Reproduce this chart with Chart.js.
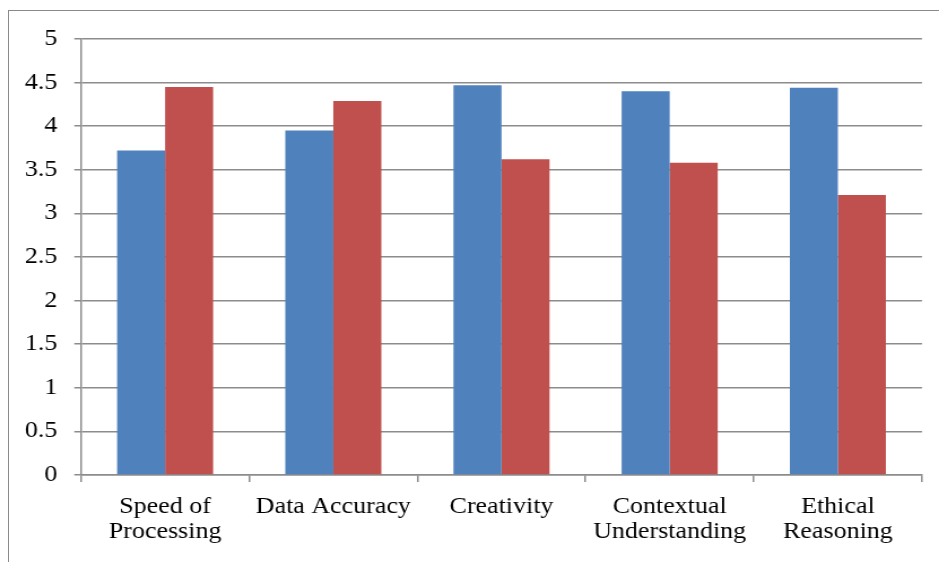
<!DOCTYPE html>
<html>
<head>
<meta charset="utf-8">
<script src="https://cdn.jsdelivr.net/npm/chart.js@4/dist/chart.umd.min.js"></script>
<style>
  html, body { margin: 0; padding: 0; background: #fff; overflow: hidden; }
  #frame {
    position: absolute; left: 8px; top: 10px; width: 1200px; height: 1000px;
    border-left: 1px solid #8a8a8a; border-top: 1px solid #8a8a8a;
  }
  /* the reference is a bit wider than tall, stretch horizontally */
  #wrap {
    position: absolute; left: 0; top: 0; width: 831px; height: 562px;
    transform: scaleX(1.13); transform-origin: 0 0;
  }
</style>
</head>
<body>
<div id="frame"></div>
<div id="wrap"><canvas id="myChart"></canvas></div>
<script>
const categories = [
  ["Speed of", "Processing"],
  "Data Accuracy",
  "Creativity",
  ["Contextual", "Understanding"],
  ["Ethical", "Reasoning"]
];
const seriesBlue = [3.72, 3.95, 4.47, 4.40, 4.44];
const seriesRed = [4.45, 4.29, 3.62, 3.58, 3.21];

const gridColor = "#8c8c8c";
const font = { family: "'Liberation Serif', 'Times New Roman', serif", size: 23, lineHeight: 1.06 };

new Chart(document.getElementById("myChart"), {
  type: "bar",
  data: {
    labels: categories,
    datasets: [
      { data: seriesBlue, backgroundColor: "#4F81BD", categoryPercentage: 0.571, barPercentage: 1.0 },
      { data: seriesRed, backgroundColor: "#C0504D", categoryPercentage: 0.571, barPercentage: 1.0 }
    ]
  },
  options: {
    responsive: true,
    maintainAspectRatio: false,
    animation: false,
    devicePixelRatio: 1,
    layout: { padding: { left: 0, top: 39, right: 15.1, bottom: 0 } },
    plugins: { legend: { display: false }, tooltip: { enabled: false } },
    scales: {
      x: {
        offset: true,
        grid: { display: true, drawOnChartArea: false, drawTicks: true, tickLength: 7, color: gridColor, lineWidth: 1.5 },
        border: { display: true, color: gridColor, width: 1.5 },
        ticks: { color: "#000", font: font, padding: 13, maxRotation: 0, autoSkip: false },
        afterFit: (scale) => { scale.height = 87; }
      },
      y: {
        min: 0,
        max: 5,
        ticks: { stepSize: 0.5, color: "#000", font: font, padding: 15, callback: (v) => String(v) },
        grid: { color: gridColor, lineWidth: 1.5, tickLength: 6 },
        border: { display: true, color: gridColor, width: 1.5 },
        afterFit: (scale) => { scale.width = 71.7; }
      }
    }
  }
});
</script>
</body>
</html>
